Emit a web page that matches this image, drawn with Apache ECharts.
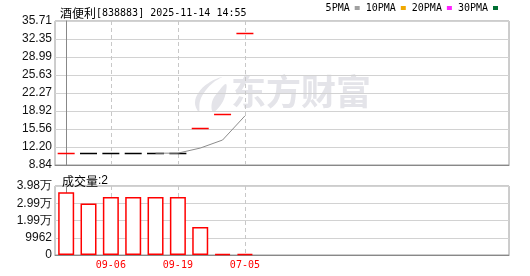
<!DOCTYPE html>
<html><head><meta charset="utf-8">
<script src="https://cdn.jsdelivr.net/npm/echarts@6/dist/echarts.min.js"></script>
<style>html,body{margin:0;padding:0;background:#fff}#c{width:530px;height:276px}</style>
</head><body><div id="c"></div>
<script>
// ---- data ----
const stockName = '酒便利';
const stockInfo = '[838883] 2025-11-14 14:55';
const dayIndex = [0, 1, 2, 3, 4, 5, 6, 7, 8];
const closePrice = [11.05, 11.05, 11.05, 11.05, 11.05, 11.05, 15.69, 18.30, 33.41];
const ma5 = [null, null, null, null, 11.05, 11.05, 12.00, 13.50, 18.00];
const volume = [36225, 29800, 33450, 33450, 33450, 33450, 16200, 120, 2];
const priceTicks = [8.84, 12.20, 15.56, 18.92, 22.27, 25.63, 28.99, 32.35, 35.71];
const volumeTicks = [0, 9962, 19924, 29886, 39848];
const dateTickPos = [2, 5, 8];
const dateTickLabels = ['09-06', '09-19', '07-05'];
const legendNames = ['5PMA', '10PMA', '20PMA', '30PMA'];

// ---- chart ----
const chart = echarts.init(document.getElementById('c'), null, {renderer: 'canvas'});
const MONO = 'DejaVu Sans Mono';
const CJK = 'Noto Sans CJK SC';
const xCommon = {
  type: 'value', min: -0.5, max: 19.82,
  axisLine: {show: true, lineStyle: {color: '#888'}},
  axisTick: {show: false, customValues: dateTickPos},
  splitLine: {show: true, lineStyle: {color: '#c8c8c8', type: [4, 3]}},
};
const option = {
  animation: false,
  backgroundColor: '#fff',
  title: [
    {left: 55, top: 1, text: '{a|' + stockName + '}{b|' + stockInfo + '}',
      textStyle: {fontWeight: 'normal', rich: {
        a: {fontFamily: CJK, fontSize: 12, fontWeight: 'normal', color: '#000', lineHeight: 14},
        b: {fontFamily: MONO, fontSize: 10, fontWeight: 'normal', color: '#000', lineHeight: 14}}}},
    {left: 57, top: 169, text: '{a|成交量}{b|:' + volume[volume.length - 1] + '}',
      textStyle: {fontWeight: 'normal', rich: {
        a: {fontFamily: CJK, fontSize: 12, fontWeight: 'normal', color: '#000', lineHeight: 14},
        b: {fontFamily: 'Liberation Sans', fontSize: 12, fontWeight: 'normal', color: '#000', lineHeight: 14}}}}
  ],
  legend: {
    data: legendNames, right: 32, top: 3, align: 'right', icon: 'rect',
    itemWidth: 5, itemHeight: 4, itemGap: 6, padding: 0,
    textStyle: {fontFamily: MONO, fontSize: 10, color: '#000'},
    selectedMode: false
  },
  grid: [
    {left: 55, right: 21, top: 21, height: 144, show: true, borderColor: '#9a9a9a', borderWidth: 1},
    {left: 55, right: 21, top: 186, height: 69, show: true, borderColor: '#9a9a9a', borderWidth: 1}
  ],
  graphic: [
    {type: 'polygon', z: -10, silent: true,
      shape: {points: [[222, 77], [210, 82], [199, 92], [195, 103], [199, 112], [200, 101], [206, 90], [214, 82]], smooth: 0.4},
      style: {fill: '#e4e4e9'}},
    {type: 'polygon', z: -10, silent: true,
      shape: {points: [[226, 84], [218, 92], [212, 102], [213, 112], [220, 106], [225, 96]], smooth: 0.4},
      style: {fill: '#e4e4e9'}},
    {type: 'text', z: -10, silent: true, left: 231, top: 74,
      style: {text: '东方财富', fontFamily: CJK, fontWeight: 'bold', fontSize: 35, fill: '#e4e4e9'}}
  ],
  xAxis: [
    Object.assign({}, xCommon, {gridIndex: 0, axisLabel: {show: false, customValues: dateTickPos}}),
    Object.assign({}, xCommon, {gridIndex: 1, axisLabel: {show: true, customValues: dateTickPos, margin: 5,
      color: '#ff0000', fontFamily: MONO, fontSize: 10,
      formatter: v => dateTickLabels[dateTickPos.indexOf(v)] || ''}})
  ],
  yAxis: [
    {type: 'value', gridIndex: 0, min: priceTicks[0], max: priceTicks[priceTicks.length - 1],
      axisLine: {show: true, lineStyle: {color: '#888'}},
      axisTick: {show: false, customValues: priceTicks},
      axisLabel: {customValues: priceTicks, margin: 3, color: '#111', fontFamily: 'Liberation Sans', fontSize: 12,
        formatter: v => v.toFixed(2)},
      splitLine: {show: true, lineStyle: {color: '#d2d2d2'}}},
    {type: 'value', gridIndex: 1, min: volumeTicks[0], max: volumeTicks[volumeTicks.length - 1], interval: volumeTicks[1],
      axisLine: {show: true, lineStyle: {color: '#888'}},
      axisTick: {show: false},
      axisLabel: {margin: 3, color: '#111', fontFamily: 'Liberation Sans', fontSize: 12,
        formatter: v => v >= 10000 ? (v / 10000).toFixed(2) + '万' : String(Math.round(v))},
      splitLine: {show: true, lineStyle: {color: '#d2d2d2'}}}
  ],
  series: [
    {type: 'custom', name: 'K', xAxisIndex: 0, yAxisIndex: 0, z: 3,
      data: dayIndex.map((d, i) => [d, closePrice[i]]),
      encode: {x: 0, y: 1},
      renderItem: (params, api) => {
        const i = params.dataIndex;
        const p = api.coord([api.value(0), api.value(1)]);
        const c = closePrice[i];
        const prev = i > 0 ? closePrice[i - 1] : null;
        const color = (prev === null || c > prev) ? '#ff0000' : (c < prev ? '#008000' : '#000000');
        const y = Math.round(p[1]) + 0.5;
        return {type: 'line', shape: {x1: p[0] - 8.5, y1: y, x2: p[0] + 8.5, y2: y},
          style: {stroke: color, lineWidth: 1.5}};
      }},
    {type: 'line', name: '5PMA', xAxisIndex: 0, yAxisIndex: 0, z: 5, symbol: 'none',
      data: dayIndex.map((d, i) => [d, ma5[i]]),
      itemStyle: {color: '#a0a0a0'}, lineStyle: {color: '#8c8c8c', width: 1}},
    {type: 'line', name: '10PMA', xAxisIndex: 0, yAxisIndex: 0, symbol: 'none', data: [],
      itemStyle: {color: '#f0a800'}, lineStyle: {color: '#f0a800'}},
    {type: 'line', name: '20PMA', xAxisIndex: 0, yAxisIndex: 0, symbol: 'none', data: [],
      itemStyle: {color: '#ff22ff'}, lineStyle: {color: '#ff22ff'}},
    {type: 'line', name: '30PMA', xAxisIndex: 0, yAxisIndex: 0, symbol: 'none', data: [],
      itemStyle: {color: '#006f33'}, lineStyle: {color: '#006f33'}},
    {type: 'bar', name: 'VOL', xAxisIndex: 1, yAxisIndex: 1, barWidth: 16, barMinHeight: 1,
      data: dayIndex.map((d, i) => [d, volume[i]]),
      itemStyle: {color: '#ffffff', borderColor: '#ff0000', borderWidth: 1.5}}
  ]
};
chart.setOption(option);
</script></body></html>
